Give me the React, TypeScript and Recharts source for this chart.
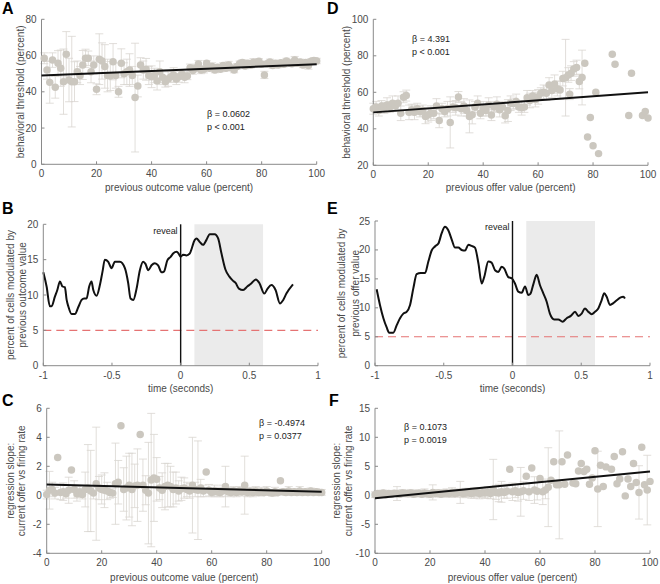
import React from 'react';
import {
  ComposedChart,
  Scatter,
  Line,
  XAxis,
  YAxis,
  ZAxis,
  ErrorBar,
  ReferenceLine,
  ReferenceArea,
  Label,
} from 'recharts';

// ---- panel A: behavioral threshold vs previous outcome value
const xA = [1,2,3,4,5,6,7,8,9,10,11,12,13,14,15,16,17,18,19,20,21,22,23,24,25,26,27,28,29,30,31,32,33,34,35,36,37,38,39,40,41,42,43,44,45,46,47,48,49,50,51,52,53,54,55,56,57,58,59,60,61,62,63,64,65,66,67,68,69,70,71,72,73,74,75,76,77,78,79,80,81,82,83,84,85,86,87,88,89,90,91,92,93,94,95,96,97,98,99,100];
const yA = [58.5,52,45.2,57.5,42.5,55.7,53,45.6,60.7,46.5,45.6,45.6,51,49,54.8,58.5,58.5,51,54.8,41.4,58,57,54,49,48.7,56.6,49,40,55.7,50,51,52,49,36.8,43.2,54.8,52,52.4,49,48.3,49,46,51,48,45.6,47,48.3,49.3,47,48.3,49.8,48,48.7,53.3,51.7,53,55.3,52,52.4,55.7,53,54,52,53.5,52.5,54.5,53,54.8,53.2,52,54,55.5,56.2,54.2,55.8,54.6,56.3,55.5,56.8,55.2,49.3,55.5,56.5,54.5,55.8,54.8,56,55.2,57,56,55.5,57.5,55.8,56.5,54.8,56.2,54.5,56.8,57.3,57];
const eA = [3,5,11.5,4,6,7,10,18,12.5,12,25,11,6,5,8,5,4,6,5,3,14,10,12,9,8,10,7,3,8,6,7,9,5,30,6,4,5,6,5,6,4,5,6,4,3,4,3,4,3,3,2.5,3,2,2,2,2,2,2,2,1.5,1.5,2,1.5,1.5,1.5,1.5,1.5,2,1.5,1.5,1.5,1.5,1.5,1.5,1.5,1.5,2,1.5,1.5,1.5,2,1.5,1.5,1.5,1.5,1.5,1.5,1.5,1.5,1.5,1.5,2,1.5,1.5,1.5,1.5,2,1.5,1.5,1.5];
const fitA = [49, 55.2];

// ---- panel D: behavioral threshold vs previous offer value
const xD = [0,1,2,3,4,5,6,7,8,9,10,11,12,13,14,15,16,17,18,19,20,21,22,23,24,25,26,27,28,29,30,31,32,33,34,35,36,37,38,39,40,41,42,43,44,45,46,47,48,49,50,51,52,53,54,55,56,57,58,59,60,61,62,63,64,65,66,67,68,69,70,71,71.5,72,73,74,75,76,77,78,79,80,81,82,87,88,93,94,98,99,100];
const yD = [51,52,50,52.5,51.5,53,52,54,52.5,54,48.5,57.3,58.2,49,50.5,49,51,49.5,50,46.8,47.7,48.6,48.5,52.5,44.6,51,49.5,51,43.5,52,51.5,57.4,51,52.5,50,46.8,47.7,52,54,48.5,51,50,53,47.5,52,53.5,50.5,52,47.2,50,54,53.8,55,52,51.5,52,57,55.5,58,56,57.5,59.5,60,59.5,64,61,64.5,62,61.2,67.5,68,69.5,59,70.5,72.8,73.6,65.9,68.1,75.9,35.5,46.2,30.7,60,26.4,80.9,75.4,47.3,70.5,47.3,49.5,45.9];
const eD = [3,3,3,3,3,4,3,4,3,4,4,3,3,4,3,4,3,3,3,4,4,4,3,4,4,3,3,4,14,3,4,3,4,4,3,9,5,3,4,3,4,3,4,3,3,4,4,3,4,6,4,3,4,3,4,3,4,4,3,4,4,3,4,4,4,4,5,4,5,4,21,4,3,4,4,4,4,15,0,0,0,0,0,0,0,0,0,0,0,0,0];
const fitD = [49, 60];

// ---- panel B: percent of cells modulated by previous outcome value
const tB = [-1,-0.976,-0.952,-0.94,-0.915,-0.898,-0.879,-0.86,-0.843,-0.83,-0.818,-0.794,-0.77,-0.745,-0.721,-0.703,-0.685,-0.666,-0.649,-0.636,-0.612,-0.588,-0.569,-0.552,-0.527,-0.503,-0.479,-0.442,-0.406,-0.382,-0.365,-0.345,-0.321,-0.297,-0.273,-0.256,-0.236,-0.212,-0.188,-0.164,-0.139,-0.122,-0.097,-0.073,-0.053,-0.03,-0.013,0,0.018,0.042,0.067,0.103,0.115,0.139,0.164,0.188,0.212,0.248,0.273,0.297,0.326,0.355,0.382,0.4,0.424,0.455,0.485,0.512,0.548,0.573,0.609,0.633,0.661,0.691,0.723,0.747,0.77,0.818];
const vB = [13.2,11.2,8.4,8.4,9.8,10.7,11.9,11.2,11.1,9.3,8.4,7.3,7.3,8.3,9.3,9.5,9.5,11.2,11.9,10.7,9.9,11.4,13.3,15,14.7,13.8,14.7,14.7,13.8,11.7,9.5,9.3,10.9,13.5,14.7,14.4,13.5,14.2,14.5,14.2,13.2,13.3,14.9,15.4,15.9,16.1,15.8,15.4,15.7,15.6,15.9,17.8,18,17.5,17.1,17.8,18.6,18.6,18,15.9,13.6,12.6,12,11.7,10.9,10.7,11.2,11.6,12.2,11.7,10.2,10.9,11.4,10.7,8.8,9.3,10.2,11.5];

// ---- panel E: percent of cells modulated by previous offer value
const tE = [-0.988,-0.964,-0.939,-0.915,-0.897,-0.867,-0.842,-0.818,-0.794,-0.77,-0.745,-0.721,-0.697,-0.667,-0.636,-0.612,-0.588,-0.564,-0.539,-0.515,-0.491,-0.467,-0.442,-0.418,-0.394,-0.37,-0.345,-0.321,-0.297,-0.273,-0.248,-0.224,-0.206,-0.176,-0.152,-0.127,-0.103,-0.079,-0.061,-0.03,-0.006,0.018,0.042,0.067,0.091,0.115,0.13,0.152,0.176,0.2,0.224,0.248,0.272,0.303,0.333,0.364,0.394,0.424,0.455,0.479,0.503,0.527,0.552,0.576,0.6,0.624,0.648,0.667,0.685,0.709,0.733,0.758,0.787,0.806,0.818];
const vE = [13.2,10.5,8.2,6.6,5.7,5.7,7,8.2,9,9.3,10.5,13.4,15.8,16,16,18,19.9,20.6,21.1,22.9,24,23.4,21.8,20.4,20.4,20,19.9,20.9,20.7,20.4,17.7,14.2,15.3,18,17.8,16.5,16.2,17.1,16.8,15.3,15.1,14.2,12.8,12.6,13.7,12.2,12.4,14.1,15.7,13.9,12.5,11.1,9,8,8,7.6,8.2,8.6,9.3,8.6,9,9.9,9.3,8.9,9.3,9.9,11.3,12.5,11.9,10.5,10.8,11.3,11.8,11.9,11.6];

// ---- panel C: regression slope vs previous outcome value
const xC = [0,1,2,3,4,5,6,7,8,9,10,11,12,13,14,15,16,17,18,19,20,21,22,23,24,25,26,27,28,29,30,31,32,33,34,35,36,37,38,39,40,41,42,43,44,45,46,47,48,49,50,51,52,53,54,55,56,57,58,59,60,61,62,63,64,65,66,67,68,69,70,71,72,73,74,75,76,77,78,79,80,81,82,83,84,85,86,87,88,89,90,91,92,93,94,95,96,97,98,99,100];
const yC = [0.05,0.35,0.4,0.15,2.6,0.2,0.25,0.1,0.35,1.75,0.4,0.1,0.25,0.05,0.4,0.5,0.3,0.15,0.8,0.5,0.4,0.35,0.3,0.2,0.15,0.8,0.9,4.8,0.4,0.5,0.7,0.4,0.65,0.7,4.2,0.7,0.35,0.15,1.05,1.2,1.1,0.5,0.35,0.6,0.7,0.6,0.4,0.5,0.3,0.45,0.5,0.4,0.3,0.7,0.4,0.35,0.5,0.3,1.6,0.35,0.2,0.3,0.25,0.2,0.3,0.6,0.25,0.2,0.3,0.2,0.3,0.25,0.7,0.2,0.25,0.2,0.3,0.2,0.25,0.2,0.3,0.2,0.15,0.25,0.2,1.0,0.25,0.2,0.3,0.2,0.25,0.2,0.3,0.2,0.25,0.2,0.3,0.2,0.25,0.2,0.2];
const eC = [0.3,1.3,0.5,0.4,0,0.5,0.6,0.3,0.9,0,0.6,0.5,0.4,0.3,1.2,3,2.8,0.4,3.9,0.8,1,1.2,0.6,0.4,0.3,2.8,1.5,0,1.5,2.2,2.2,2.5,1.5,2.5,0,1.8,1,3.5,4.6,3,1.5,0.8,1.2,1.6,1.5,1.4,1.2,1.1,0.7,0.8,0.7,0.5,0.5,3.3,0.5,3.4,0.6,0.4,0,0.4,0.3,0.4,0.3,0.3,0.4,1.4,0.3,0.3,0.3,0.3,0.3,0.3,2,0.3,0.3,0.3,0.3,0.2,0.3,0.2,0.3,0.2,0.2,0.3,0.2,0,0.2,0.2,0.3,0.2,0.2,0.2,0.3,0.2,0.2,0.2,0.2,0.2,0.2,0.2,0.2];
const fitC = [0.75, 0.25];

// ---- panel F: regression slope vs previous offer value
const xF = [0,1,2,3,4,5,6,7,8,9,10,11,12,13,14,15,16,17,18,19,20,21,22,23,24,25,26,27,28,29,30,31,32,33,34,35,36,37,38,39,40,41,42,43,44,45,46,47,48,49,50,51,52,53,54,55,56,57,58,59,60,61,62,63,64,65,66,67,68,69,70,72,73,74,75,76,77,78,79,80,81,82,83,84,86,87,88,89,90,91,92,93,94,95,96,97,98,99,100];
const yF = [0.1,0.3,0.2,0.4,0.1,0.3,0.2,0.35,0.3,0.2,0.4,0.3,0.25,0.4,0.2,0.3,0.35,0.2,0.4,0.3,0.2,0.5,0.3,0.4,0.2,0.35,0.4,0.3,0.5,0.3,0.4,0.5,0.3,0.4,0.5,0.3,0.4,0.5,0.3,0.45,0.4,0.5,0.3,1,0.5,0.4,0.6,0.5,0.7,4.5,0.6,0.8,0.5,0.6,0.8,3.3,0.6,4.7,0.9,0.7,2.9,0.6,0.9,1.4,2.6,5.8,1.8,1.8,5.8,1.9,6.95,2.1,2,4.2,5.5,4.1,4.5,1.9,3,7.7,1.1,5.2,1.5,4.9,4.5,6.7,2,2.8,7.5,-0.1,2.8,1.5,5.5,2.2,0.5,8.3,1.8,0.9,2.4];
const eF = [0.5,0.5,0.4,0.5,0.4,0.5,0.4,0.5,1.2,0.5,0.6,0.5,0.5,0.6,0.5,0.5,0.6,0.5,0.7,0.5,0.6,1.3,0.6,0.6,0.5,0.6,0.7,0.6,0.8,0.6,0.7,1.9,0.7,0.8,0.7,0.8,0.9,0.8,0.9,0.8,0.9,1,0.9,5.2,1.2,1.5,1.8,1,1.2,0,1.5,1.2,1.5,4.2,1.5,0,1.5,0,2.3,1.5,0,2.2,1.5,6.8,0,0,0,9.3,0,0,0,0,0,0,0,0,0,0,0,0,6.5,0,0,0,0,0,0,0,0,0,0,0,0,0,4.6,0,0,6,0];
const fitF = [-0.5, 4.1];

const ticksPct = [0, 20, 40, 60, 80, 100];
const ticksA = [0, 20, 40, 60, 80];
const ticksD = [20, 40, 60, 80, 100];
const ticksTime = [-1, -0.5, 0, 0.5, 1];
const ticksB = [0, 5, 10, 15, 20];
const ticksE = [0, 5, 10, 15, 20, 25];
const ticksC = [-4, -2, 0, 2, 4, 6];
const ticksF = [-10, -5, 0, 5, 10, 15];

const FONT = '"Liberation Sans", Arial, Helvetica, sans-serif';
const DOT = '#cbc7bf';
const BAR = '#d9d6d0';
const AXIS = '#8a8a8a';
const TXT = '#4a4a4a';

const pts = (xs: number[], ys: number[], es: number[]) =>
  xs.map((x, i) => ({ x, y: ys[i], e: es[i] }));
const fit = (ends: number[]) => [
  { x: 0, y: ends[0] },
  { x: 100, y: ends[1] },
];
const series = (ts: number[], vs: number[]) => ts.map((x, i) => ({ x, y: vs[i] }));

type Frame = { left: number; top: number; right: number; bottom: number };

function layout(f: Frame, L: number, T: number) {
  const W = 330;
  const H = f.bottom + 32 - T;
  return {
    width: W,
    height: H,
    style: { position: 'absolute' as const, left: L, top: T },
    margin: { top: f.top - T, left: 0, right: L + W - f.right, bottom: 2 },
    yWidth: f.left - L,
  };
}

const tickStyle = { fontSize: 10, fill: TXT, fontFamily: FONT };

function YLabel({ viewBox, lines, xs }: any) {
  const cy = viewBox.y + viewBox.height / 2;
  return (
    <g>
      {lines.map((t: string, i: number) => (
        <text
          key={i}
          x={viewBox.x + xs[i]}
          y={cy}
          transform={`rotate(-90, ${viewBox.x + xs[i]}, ${cy})`}
          textAnchor="middle"
          dominantBaseline="central"
          fontSize={10}
          fill={TXT}
          fontFamily={FONT}
        >
          {t}
        </text>
      ))}
    </g>
  );
}

function XLabel({ viewBox, text, dy }: any) {
  return (
    <text
      x={viewBox.x + viewBox.width / 2}
      y={viewBox.y + dy}
      textAnchor="middle"
      dominantBaseline="central"
      fontSize={10}
      fill={TXT}
      fontFamily={FONT}
    >
      {text}
    </text>
  );
}

function axes(
  xTicks: number[],
  yTicks: number[],
  yWidth: number,
  xText: string,
  xDy: number,
  yLines: string[],
  yXs: number[],
  fmtX?: (v: number) => string
) {
  return [
    <XAxis
      key="x"
      xAxisId={0}
      type="number"
      dataKey="x"
      domain={[xTicks[0], xTicks[xTicks.length - 1]]}
      ticks={xTicks}
      interval={0}
      height={30}
      stroke={AXIS}
      tickSize={-3}
      tickMargin={9}
      tick={tickStyle}
      tickFormatter={fmtX}
    >
      <Label content={(p: any) => <XLabel {...p} text={xText} dy={xDy} />} />
    </XAxis>,
    <YAxis
      key="y"
      yAxisId={0}
      type="number"
      domain={[yTicks[0], yTicks[yTicks.length - 1]]}
      ticks={yTicks}
      interval={0}
      width={yWidth}
      stroke={AXIS}
      tickSize={-3}
      tickMargin={8}
      tick={tickStyle}
    >
      <Label content={(p: any) => <YLabel {...p} lines={yLines} xs={yXs} />} />
    </YAxis>,
  ];
}

function ScatterPanel(props: {
  frame: Frame;
  L: number;
  T: number;
  data: { x: number; y: number; e: number }[];
  line: { x: number; y: number }[];
  yTicks: number[];
  xText: string;
  xDy: number;
  yLines: string[];
  yXs: number[];
}) {
  const g = layout(props.frame, props.L, props.T);
  return (
    <ComposedChart width={g.width} height={g.height} margin={g.margin} style={g.style}>
      {axes(ticksPct, props.yTicks, g.yWidth, props.xText, props.xDy, props.yLines, props.yXs)}
      <ZAxis range={[44, 44]} />
      <Scatter data={props.data} dataKey="y" fill={DOT} shape="circle" isAnimationActive={false}>
        <ErrorBar dataKey="e" direction="y" width={4} stroke={BAR} strokeWidth={0.8} />
      </Scatter>
      {/* regression fit, drawn as a second scatter so it sits above the dots */}
      <Scatter
        data={props.line}
        dataKey="y"
        line={{ stroke: '#111', strokeWidth: 2 }}
        shape={() => <g />}
        isAnimationActive={false}
      />
    </ComposedChart>
  );
}

function TimePanel(props: {
  frame: Frame;
  L: number;
  T: number;
  data: { x: number; y: number }[];
  yTicks: number[];
  yLines: string[];
  yXs: number[];
}) {
  const g = layout(props.frame, props.L, props.T);
  return (
    <ComposedChart width={g.width} height={g.height} margin={g.margin} style={g.style}>
      {axes(ticksTime, props.yTicks, g.yWidth, 'time (seconds)', 22.6, props.yLines, props.yXs, (v) => String(v))}
      <ReferenceArea x1={0.1} x2={0.6} fill="#ebebeb" fillOpacity={1} stroke="none" />
      <ReferenceLine y={5} stroke="#e57373" strokeDasharray="8 5" strokeWidth={1.2} />
      <ReferenceLine
        x={0}
        stroke="#111"
        strokeWidth={1.4}
        label={{ value: 'reveal', position: 'insideTopRight', offset: 3, fontSize: 9, fill: '#222', fontFamily: FONT }}
      />
      <Line
        data={props.data}
        dataKey="y"
        type="monotone"
        stroke="#111"
        strokeWidth={2}
        dot={false}
        isAnimationActive={false}
      />
    </ComposedChart>
  );
}

const letter = (ch: string, left: number, top: number) => (
  <div
    key={ch}
    style={{ position: 'absolute', left, top, fontSize: 16, lineHeight: '16px', fontWeight: 'bold', fontFamily: FONT, color: '#000' }}
  >
    {ch}
  </div>
);

const note = (a: string, b: string, left: number, top: number) => (
  <div
    key={a}
    style={{ position: 'absolute', left, top, fontSize: 9, lineHeight: '12.5px', fontFamily: FONT, color: '#222', whiteSpace: 'nowrap' }}
  >
    <div>{a}</div>
    <div>{b}</div>
  </div>
);

export default function App() {
  return (
    <div style={{ position: 'absolute', left: 0, top: 0, width: 660, height: 584, background: '#fff', overflow: 'hidden' }}>
      <ScatterPanel
        frame={{ left: 41.5, top: 19.3, right: 316.7, bottom: 164.3 }}
        L={0}
        T={0}
        data={pts(xA, yA, eA)}
        line={fit(fitA)}
        yTicks={ticksA}
        xText="previous outcome value (percent)"
        xDy={23}
        yLines={['behavioral threshold (percent)']}
        yXs={[20]}
      />
      <ScatterPanel
        frame={{ left: 373.3, top: 19.3, right: 648, bottom: 165.3 }}
        L={330}
        T={0}
        data={pts(xD, yD, eD)}
        line={fit(fitD)}
        yTicks={ticksD}
        xText="previous offer value (percent)"
        xDy={22}
        yLines={['behavioral threshold (percent)']}
        yXs={[16]}
      />
      <TimePanel
        frame={{ left: 43.3, top: 224.3, right: 318, bottom: 365.7 }}
        L={0}
        T={195}
        data={series(tB, vB)}
        yTicks={ticksB}
        yLines={['percent of cells modulated by', 'previous outcome value']}
        yXs={[10, 22.7]}
      />
      <TimePanel
        frame={{ left: 375, top: 221, right: 650, bottom: 365.7 }}
        L={330}
        T={195}
        data={series(tE, vE)}
        yTicks={ticksE}
        yLines={['percent of cells modulated by', 'previous offer value']}
        yXs={[11.7, 25]}
      />
      <ScatterPanel
        frame={{ left: 46.7, top: 408.3, right: 321.7, bottom: 553.3 }}
        L={0}
        T={390}
        data={pts(xC, yC, eC)}
        line={fit(fitC)}
        yTicks={ticksC}
        xText="previous outcome value (percent)"
        xDy={24.5}
        yLines={['regression slope:', 'current offer vs firing rate']}
        yXs={[10, 21.7]}
      />
      <ScatterPanel
        frame={{ left: 375, top: 408.3, right: 650, bottom: 553.3 }}
        L={330}
        T={390}
        data={pts(xF, yF, eF)}
        line={fit(fitF)}
        yTicks={ticksF}
        xText="previous offer value (percent)"
        xDy={24.5}
        yLines={['regression slope:', 'current offer vs firing rate']}
        yXs={[6.7, 18]}
      />
      {letter('A', 2, 1)}
      {letter('D', 327, 1)}
      {letter('B', 2, 201)}
      {letter('E', 327, 201)}
      {letter('C', 2, 393)}
      {letter('F', 329, 393)}
      {note('β = 0.0602', 'p < 0.001', 207, 108)}
      {note('β = 4.391', 'p < 0.001', 412, 33)}
      {note('β = -0.4974', 'p = 0.0377', 259, 417)}
      {note('β = 0.1073', 'p = 0.0019', 404, 421)}
    </div>
  );
}
